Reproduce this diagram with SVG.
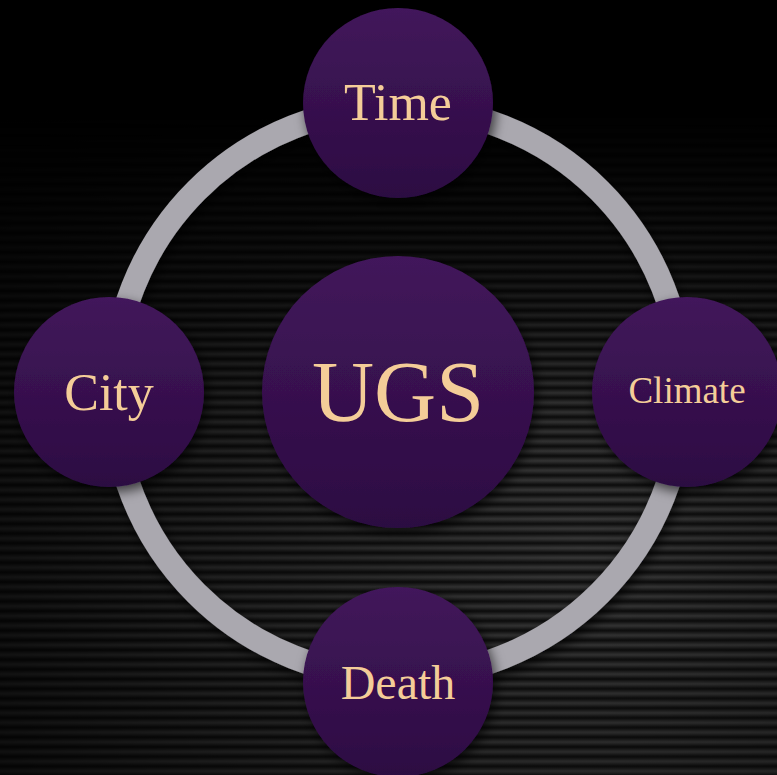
<svg xmlns="http://www.w3.org/2000/svg" width="777" height="775" viewBox="0 0 777 775">
  <defs>
    <linearGradient id="stripeG" x1="0" y1="0" x2="0" y2="1">
      <stop offset="0" stop-color="#0c0c0c"/>
      <stop offset="0.5" stop-color="#3a3a3a"/>
      <stop offset="1" stop-color="#0c0c0c"/>
    </linearGradient>
    <pattern id="stripes" patternUnits="userSpaceOnUse" x="0" y="0" width="777" height="9.7">
      <rect width="777" height="9.7" fill="url(#stripeG)"/>
    </pattern>
    <radialGradient id="glow" gradientUnits="userSpaceOnUse" cx="580" cy="540" r="680">
      <stop offset="0" stop-color="#fff"/>
      <stop offset="0.45" stop-color="#a8a8a8"/>
      <stop offset="1" stop-color="#383838"/>
    </radialGradient>
    <linearGradient id="topFade" gradientUnits="userSpaceOnUse" x1="0" y1="110" x2="0" y2="400">
      <stop offset="0" stop-color="#000" stop-opacity="1"/>
      <stop offset="1" stop-color="#000" stop-opacity="0"/>
    </linearGradient>
    <mask id="bgMask" maskUnits="userSpaceOnUse" x="0" y="0" width="777" height="775">
      <rect width="777" height="775" fill="url(#glow)"/>
      <rect width="777" height="775" fill="url(#topFade)"/>
    </mask>
    <linearGradient id="nodeG" x1="0" y1="0" x2="0" y2="1">
      <stop offset="0" stop-color="#42165b"/>
      <stop offset="1" stop-color="#2c0c42"/>
    </linearGradient>
    <filter id="shadow" x="-30%" y="-30%" width="160%" height="160%">
      <feDropShadow dx="3" dy="5" stdDeviation="6" flood-color="#000" flood-opacity="0.65"/>
    </filter>
    <style>
      .node { fill: url(#nodeG); filter: url(#shadow); }
      .label { fill: #f4cd98; font-family: "Liberation Serif", "Times New Roman", serif; text-anchor: middle; }
    </style>
  </defs>

  <rect width="777" height="775" fill="#000"/>
  <rect width="777" height="775" fill="url(#stripes)" mask="url(#bgMask)"/>

  <g id="connectors">
    <circle cx="398" cy="392" r="285" fill="none" stroke="#aaa8af" stroke-width="24" filter="url(#shadow)"/>
  </g>

  <g id="node-ugs">
    <circle class="node" cx="398" cy="392" r="136"/>
    <text class="label" x="398" y="421" font-size="86">UGS</text>
  </g>
  <g id="node-time">
    <circle class="node" cx="398" cy="103" r="95"/>
    <text class="label" x="398" y="120" font-size="52">Time</text>
  </g>
  <g id="node-city">
    <circle class="node" cx="109" cy="392" r="95"/>
    <text class="label" x="109" y="410" font-size="52">City</text>
  </g>
  <g id="node-climate">
    <circle class="node" cx="687" cy="392" r="95"/>
    <text class="label" x="687" y="403" font-size="37">Climate</text>
  </g>
  <g id="node-death">
    <circle class="node" cx="398" cy="682" r="95"/>
    <text class="label" x="398" y="699" font-size="48">Death</text>
  </g>
</svg>
